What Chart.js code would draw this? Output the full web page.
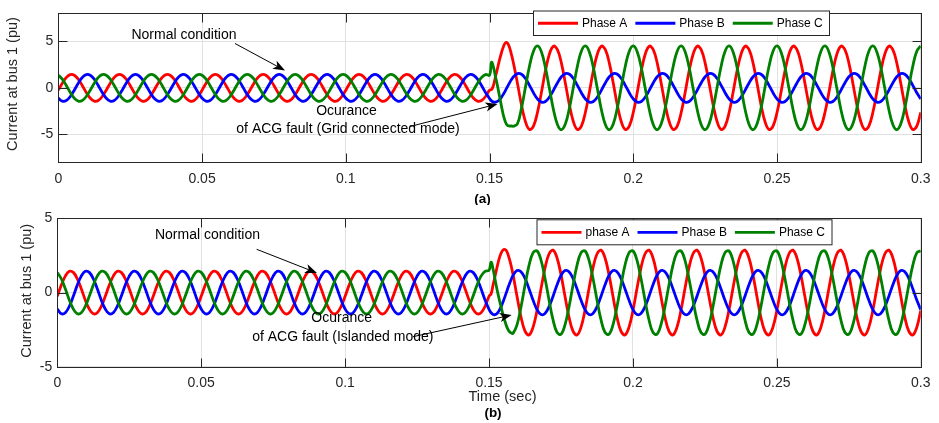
<!DOCTYPE html>
<html>
<head>
<meta charset="utf-8">
<script src="https://cdn.jsdelivr.net/npm/chart.js@4/dist/chart.umd.min.js"></script>
<style>
  html, body { margin: 0; padding: 0; background: #ffffff; }
  #fig { position: relative; width: 939px; height: 423px; overflow: hidden; }
  #fig canvas { position: absolute; left: 0; }
</style>
</head>
<body>
<div id="fig">
  <canvas id="gridChart" width="939" height="205" style="top:0px"></canvas>
  <canvas id="islandChart" width="939" height="218" style="top:205px"></canvas>
</div>
<script>
// ---- time base (s): 12 samples per 60 Hz cycle, denser just after the fault ----
const timePre = [
  0, 0.00139, 0.00278, 0.00417, 0.00556, 0.00694, 0.00833, 0.00972, 0.01111, 0.0125, 0.01389, 0.01528,
  0.01667, 0.01806, 0.01944, 0.02083, 0.02222, 0.02361, 0.025, 0.02639, 0.02778, 0.02917, 0.03056, 0.03194,
  0.03333, 0.03472, 0.03611, 0.0375, 0.03889, 0.04028, 0.04167, 0.04306, 0.04444, 0.04583, 0.04722, 0.04861,
  0.05, 0.05139, 0.05278, 0.05417, 0.05556, 0.05694, 0.05833, 0.05972, 0.06111, 0.0625, 0.06389, 0.06528,
  0.06667, 0.06806, 0.06944, 0.07083, 0.07222, 0.07361, 0.075, 0.07639, 0.07778, 0.07917, 0.08056, 0.08194,
  0.08333, 0.08472, 0.08611, 0.0875, 0.08889, 0.09028, 0.09167, 0.09306, 0.09444, 0.09583, 0.09722, 0.09861,
  0.1, 0.10139, 0.10278, 0.10417, 0.10556, 0.10694, 0.10833, 0.10972, 0.11111, 0.1125, 0.11389, 0.11528,
  0.11667, 0.11806, 0.11944, 0.12083, 0.12222, 0.12361, 0.125, 0.12639, 0.12778, 0.12917, 0.13056, 0.13194,
  0.13333, 0.13472, 0.13611, 0.1375, 0.13889, 0.14028, 0.14167, 0.14306, 0.14444, 0.14583, 0.14722, 0.14861
];
const timePost = [
  0.15, 0.15069, 0.15139, 0.15208, 0.15278, 0.15347, 0.15417, 0.15486, 0.15556, 0.15625, 0.15694, 0.15764, 0.15833, 0.15972, 0.16111, 0.1625, 0.16389, 0.16528,
  0.16667, 0.16806, 0.16944, 0.17083, 0.17222, 0.17361, 0.175, 0.17639, 0.17778, 0.17917, 0.18056, 0.18194,
  0.18333, 0.18472, 0.18611, 0.1875, 0.18889, 0.19028, 0.19167, 0.19306, 0.19444, 0.19583, 0.19722, 0.19861,
  0.2, 0.20139, 0.20278, 0.20417, 0.20556, 0.20694, 0.20833, 0.20972, 0.21111, 0.2125, 0.21389, 0.21528,
  0.21667, 0.21806, 0.21944, 0.22083, 0.22222, 0.22361, 0.225, 0.22639, 0.22778, 0.22917, 0.23056, 0.23194,
  0.23333, 0.23472, 0.23611, 0.2375, 0.23889, 0.24028, 0.24167, 0.24306, 0.24444, 0.24583, 0.24722, 0.24861,
  0.25, 0.25139, 0.25278, 0.25417, 0.25556, 0.25694, 0.25833, 0.25972, 0.26111, 0.2625, 0.26389, 0.26528,
  0.26667, 0.26806, 0.26944, 0.27083, 0.27222, 0.27361, 0.275, 0.27639, 0.27778, 0.27917, 0.28056, 0.28194,
  0.28333, 0.28472, 0.28611, 0.2875, 0.28889, 0.29028, 0.29167, 0.29306, 0.29444, 0.29583, 0.29722, 0.29861,
  0.3
];

// ---- normal condition, 0 to 0.15 s (pu), identical for both operating modes ----
const phaseAPre = [
  -0.25, 0.50, 1.11, 1.43, 1.36, 0.93, 0.25, -0.50, -1.11, -1.43, -1.36, -0.93,
  -0.25, 0.50, 1.11, 1.43, 1.36, 0.93, 0.25, -0.50, -1.11, -1.43, -1.36, -0.93,
  -0.25, 0.50, 1.11, 1.43, 1.36, 0.93, 0.25, -0.50, -1.11, -1.43, -1.36, -0.93,
  -0.25, 0.50, 1.11, 1.43, 1.36, 0.93, 0.25, -0.50, -1.11, -1.43, -1.36, -0.93,
  -0.25, 0.50, 1.11, 1.43, 1.36, 0.93, 0.25, -0.50, -1.11, -1.43, -1.36, -0.93,
  -0.25, 0.50, 1.11, 1.43, 1.36, 0.93, 0.25, -0.50, -1.11, -1.43, -1.36, -0.93,
  -0.25, 0.50, 1.11, 1.43, 1.36, 0.93, 0.25, -0.50, -1.11, -1.43, -1.36, -0.93,
  -0.25, 0.50, 1.11, 1.43, 1.36, 0.93, 0.25, -0.50, -1.11, -1.43, -1.36, -0.93,
  -0.25, 0.50, 1.11, 1.43, 1.36, 0.93, 0.25, -0.50, -1.11, -1.43, -1.36, -0.93
];
const phaseBPre = [
  -1.11, -1.43, -1.36, -0.93, -0.25, 0.50, 1.11, 1.43, 1.36, 0.93, 0.25, -0.50,
  -1.11, -1.43, -1.36, -0.93, -0.25, 0.50, 1.11, 1.43, 1.36, 0.93, 0.25, -0.50,
  -1.11, -1.43, -1.36, -0.93, -0.25, 0.50, 1.11, 1.43, 1.36, 0.93, 0.25, -0.50,
  -1.11, -1.43, -1.36, -0.93, -0.25, 0.50, 1.11, 1.43, 1.36, 0.93, 0.25, -0.50,
  -1.11, -1.43, -1.36, -0.93, -0.25, 0.50, 1.11, 1.43, 1.36, 0.93, 0.25, -0.50,
  -1.11, -1.43, -1.36, -0.93, -0.25, 0.50, 1.11, 1.43, 1.36, 0.93, 0.25, -0.50,
  -1.11, -1.43, -1.36, -0.93, -0.25, 0.50, 1.11, 1.43, 1.36, 0.93, 0.25, -0.50,
  -1.11, -1.43, -1.36, -0.93, -0.25, 0.50, 1.11, 1.43, 1.36, 0.93, 0.25, -0.50,
  -1.11, -1.43, -1.36, -0.93, -0.25, 0.50, 1.11, 1.43, 1.36, 0.93, 0.25, -0.50
];
const phaseCPre = [
  1.36, 0.93, 0.25, -0.50, -1.11, -1.43, -1.36, -0.93, -0.25, 0.50, 1.11, 1.43,
  1.36, 0.93, 0.25, -0.50, -1.11, -1.43, -1.36, -0.93, -0.25, 0.50, 1.11, 1.43,
  1.36, 0.93, 0.25, -0.50, -1.11, -1.43, -1.36, -0.93, -0.25, 0.50, 1.11, 1.43,
  1.36, 0.93, 0.25, -0.50, -1.11, -1.43, -1.36, -0.93, -0.25, 0.50, 1.11, 1.43,
  1.36, 0.93, 0.25, -0.50, -1.11, -1.43, -1.36, -0.93, -0.25, 0.50, 1.11, 1.43,
  1.36, 0.93, 0.25, -0.50, -1.11, -1.43, -1.36, -0.93, -0.25, 0.50, 1.11, 1.43,
  1.36, 0.93, 0.25, -0.50, -1.11, -1.43, -1.36, -0.93, -0.25, 0.50, 1.11, 1.43,
  1.36, 0.93, 0.25, -0.50, -1.11, -1.43, -1.36, -0.93, -0.25, 0.50, 1.11, 1.43,
  1.36, 0.93, 0.25, -0.50, -1.11, -1.43, -1.36, -0.93, -0.25, 0.50, 1.11, 1.43
];

// ---- ACG fault, grid connected mode, 0.15 to 0.3 s (pu) ----
const phaseAGrid = [
  -0.25, -0.2, 0.3, 1.2, 2.1, 3.0, 3.8, 4.45, 4.85, 4.8, 4.35, 3.55, 2.65, 0.47, -1.83, -3.64, -4.48, -4.11,
  -2.65, -0.47, 1.83, 3.64, 4.48, 4.11, 2.65, 0.47, -1.83, -3.64, -4.48, -4.11,
  -2.65, -0.47, 1.83, 3.64, 4.48, 4.11, 2.65, 0.47, -1.83, -3.64, -4.48, -4.11,
  -2.65, -0.47, 1.83, 3.64, 4.48, 4.11, 2.65, 0.47, -1.83, -3.64, -4.48, -4.11,
  -2.65, -0.47, 1.83, 3.64, 4.48, 4.11, 2.65, 0.47, -1.83, -3.64, -4.48, -4.11,
  -2.65, -0.47, 1.83, 3.64, 4.48, 4.11, 2.65, 0.47, -1.83, -3.64, -4.48, -4.11,
  -2.65, -0.47, 1.83, 3.64, 4.48, 4.11, 2.65, 0.47, -1.83, -3.64, -4.48, -4.11,
  -2.65, -0.47, 1.83, 3.64, 4.48, 4.11, 2.65, 0.47, -1.83, -3.64, -4.48, -4.11,
  -2.65, -0.47, 1.83, 3.64, 4.48, 4.11, 2.65, 0.47, -1.83, -3.64, -4.48, -4.11,
  -2.65
];
const phaseBGrid = [
  -1.15, -1.40, -1.53, -1.54, -1.46, -1.27, -1.00, -0.66, -0.27, 0.14, 0.53, 0.89, 1.19, 1.53, 1.46, 1.00, 0.27, -0.53,
  -1.19, -1.53, -1.46, -1.00, -0.27, 0.53, 1.19, 1.53, 1.46, 1.00, 0.27, -0.53,
  -1.19, -1.53, -1.46, -1.00, -0.27, 0.53, 1.19, 1.53, 1.46, 1.00, 0.27, -0.53,
  -1.19, -1.53, -1.46, -1.00, -0.27, 0.53, 1.19, 1.53, 1.46, 1.00, 0.27, -0.53,
  -1.19, -1.53, -1.46, -1.00, -0.27, 0.53, 1.19, 1.53, 1.46, 1.00, 0.27, -0.53,
  -1.19, -1.53, -1.46, -1.00, -0.27, 0.53, 1.19, 1.53, 1.46, 1.00, 0.27, -0.53,
  -1.19, -1.53, -1.46, -1.00, -0.27, 0.53, 1.19, 1.53, 1.46, 1.00, 0.27, -0.53,
  -1.19, -1.53, -1.46, -1.00, -0.27, 0.53, 1.19, 1.53, 1.46, 1.00, 0.27, -0.53,
  -1.19, -1.53, -1.46, -1.00, -0.27, 0.53, 1.19, 1.53, 1.46, 1.00, 0.27, -0.53,
  -1.19
];
const phaseCGrid = [
  1.36, 2.75, 2.2, 1.2, 0.2, -0.9, -2.0, -3.0, -3.7, -4.05, -4.1, -4.1, -4.12, -3.86, -2.18, 0.08, 2.32, 3.94,
  4.50, 3.86, 2.18, -0.08, -2.32, -3.94, -4.50, -3.86, -2.18, 0.08, 2.32, 3.94,
  4.50, 3.86, 2.18, -0.08, -2.32, -3.94, -4.50, -3.86, -2.18, 0.08, 2.32, 3.94,
  4.50, 3.86, 2.18, -0.08, -2.32, -3.94, -4.50, -3.86, -2.18, 0.08, 2.32, 3.94,
  4.50, 3.86, 2.18, -0.08, -2.32, -3.94, -4.50, -3.86, -2.18, 0.08, 2.32, 3.94,
  4.50, 3.86, 2.18, -0.08, -2.32, -3.94, -4.50, -3.86, -2.18, 0.08, 2.32, 3.94,
  4.50, 3.86, 2.18, -0.08, -2.32, -3.94, -4.50, -3.86, -2.18, 0.08, 2.32, 3.94,
  4.50, 3.86, 2.18, -0.08, -2.32, -3.94, -4.50, -3.86, -2.18, 0.08, 2.32, 3.94,
  4.50, 3.86, 2.18, -0.08, -2.32, -3.94, -4.50, -3.86, -2.18, 0.08, 2.32, 3.94,
  4.50
];

// ---- ACG fault, islanded mode, 0.15 to 0.3 s (pu) ----
const phaseAIsland = [
  -0.25, -0.1, 0.5, 1.1, 1.7, 2.25, 2.65, 2.87, 2.9, 2.75, 2.35, 1.84, 1.21, -0.25, -1.65, -2.60, -2.86, -2.35,
  -1.21, 0.25, 1.65, 2.60, 2.86, 2.35, 1.21, -0.25, -1.65, -2.60, -2.86, -2.35,
  -1.21, 0.25, 1.65, 2.60, 2.86, 2.35, 1.21, -0.25, -1.65, -2.60, -2.86, -2.35,
  -1.21, 0.25, 1.65, 2.60, 2.86, 2.35, 1.21, -0.25, -1.65, -2.60, -2.86, -2.35,
  -1.21, 0.25, 1.65, 2.60, 2.86, 2.35, 1.21, -0.25, -1.65, -2.60, -2.86, -2.35,
  -1.21, 0.25, 1.65, 2.60, 2.86, 2.35, 1.21, -0.25, -1.65, -2.60, -2.86, -2.35,
  -1.21, 0.25, 1.65, 2.60, 2.86, 2.35, 1.21, -0.25, -1.65, -2.60, -2.86, -2.35,
  -1.21, 0.25, 1.65, 2.60, 2.86, 2.35, 1.21, -0.25, -1.65, -2.60, -2.86, -2.35,
  -1.21, 0.25, 1.65, 2.60, 2.86, 2.35, 1.21, -0.25, -1.65, -2.60, -2.86, -2.35,
  -1.21
];
const phaseBIsland = [
  -1.13, -1.36, -1.48, -1.49, -1.41, -1.23, -0.96, -0.63, -0.26, 0.13, 0.51, 0.86, 1.15, 1.48, 1.41, 0.96, 0.26, -0.51,
  -1.15, -1.48, -1.41, -0.96, -0.26, 0.51, 1.15, 1.48, 1.41, 0.96, 0.26, -0.51,
  -1.15, -1.48, -1.41, -0.96, -0.26, 0.51, 1.15, 1.48, 1.41, 0.96, 0.26, -0.51,
  -1.15, -1.48, -1.41, -0.96, -0.26, 0.51, 1.15, 1.48, 1.41, 0.96, 0.26, -0.51,
  -1.15, -1.48, -1.41, -0.96, -0.26, 0.51, 1.15, 1.48, 1.41, 0.96, 0.26, -0.51,
  -1.15, -1.48, -1.41, -0.96, -0.26, 0.51, 1.15, 1.48, 1.41, 0.96, 0.26, -0.51,
  -1.15, -1.48, -1.41, -0.96, -0.26, 0.51, 1.15, 1.48, 1.41, 0.96, 0.26, -0.51,
  -1.15, -1.48, -1.41, -0.96, -0.26, 0.51, 1.15, 1.48, 1.41, 0.96, 0.26, -0.51,
  -1.15, -1.48, -1.41, -0.96, -0.26, 0.51, 1.15, 1.48, 1.41, 0.96, 0.26, -0.51,
  -1.15
];
const phaseCIsland = [
  1.5, 2.05, 1.6, 0.9, 0.2, -0.4, -0.95, -1.5, -1.95, -2.35, -2.6, -2.72, -2.75, -2.18, -0.97, 0.49, 1.83, 2.68,
  2.81, 2.18, 0.97, -0.49, -1.83, -2.68, -2.81, -2.18, -0.97, 0.49, 1.83, 2.68,
  2.81, 2.18, 0.97, -0.49, -1.83, -2.68, -2.81, -2.18, -0.97, 0.49, 1.83, 2.68,
  2.81, 2.18, 0.97, -0.49, -1.83, -2.68, -2.81, -2.18, -0.97, 0.49, 1.83, 2.68,
  2.81, 2.18, 0.97, -0.49, -1.83, -2.68, -2.81, -2.18, -0.97, 0.49, 1.83, 2.68,
  2.81, 2.18, 0.97, -0.49, -1.83, -2.68, -2.81, -2.18, -0.97, 0.49, 1.83, 2.68,
  2.81, 2.18, 0.97, -0.49, -1.83, -2.68, -2.81, -2.18, -0.97, 0.49, 1.83, 2.68,
  2.81, 2.18, 0.97, -0.49, -1.83, -2.68, -2.81, -2.18, -0.97, 0.49, 1.83, 2.68,
  2.81, 2.18, 0.97, -0.49, -1.83, -2.68, -2.81, -2.18, -0.97, 0.49, 1.83, 2.68,
  2.81
];

// ---- axis ticks and labels ----
const xTicks = [0, 0.05, 0.1, 0.15, 0.2, 0.25, 0.3];
const xTickLabels = ['0', '0.05', '0.1', '0.15', '0.2', '0.25', '0.3'];
const yTicks = [-5, 0, 5];
const yTickLabels = ['-5', '0', '5'];
const namesGrid = ['Phase A', 'Phase B', 'Phase C'];
const namesIsland = ['phase A', 'Phase B', 'Phase C'];

// ---- styling ----
const FONT = '"Liberation Sans", Arial, Helvetica, sans-serif';
const AXIS_COLOR = '#262626';
const GRID_COLOR = '#e1e1e1';
const PHASE_COLORS = ['#ff0000', '#0000ff', '#008000'];
Chart.defaults.font.family = FONT;

function toPoints(times, values) {
  return times.map((t, i) => ({ x: t, y: values[i] }));
}
const allTimes = timePre.concat(timePost);

function makeDatasets(names, a, b, c) {
  const series = [phaseAPre.concat(a), phaseBPre.concat(b), phaseCPre.concat(c)];
  return series.map((vals, k) => ({
    label: names[k],
    data: toPoints(allTimes, vals),
    borderColor: PHASE_COLORS[k],
    backgroundColor: PHASE_COLORS[k],
    borderWidth: 2.8,
    pointRadius: 0,
    tension: 0.4,
    fill: false,
    order: 3 - k   // phase C drawn on top
  }));
}

function drawArrow(ctx, x1, y1, x2, y2) {
  const ang = Math.atan2(y2 - y1, x2 - x1);
  const L = 12, W = 4.6, N = 3.2;
  const cx = Math.cos(ang), sy = Math.sin(ang);
  ctx.beginPath();
  ctx.moveTo(x1, y1);
  ctx.lineTo(x2 - cx * (L - N), y2 - sy * (L - N));
  ctx.stroke();
  const bx = x2 - cx * L, by = y2 - sy * L;
  const nx = -sy, ny = cx;
  ctx.beginPath();
  ctx.moveTo(x2, y2);
  ctx.lineTo(bx + nx * W, by + ny * W);
  ctx.lineTo(x2 - cx * (L - N), y2 - sy * (L - N));
  ctx.lineTo(bx - nx * W, by - ny * W);
  ctx.closePath();
  ctx.fill();
}

// box, inward ticks, legend, annotations and captions
const decorPlugin = {
  id: 'decor',
  afterDatasetsDraw(chart, args, opts) {
    const ctx = chart.ctx, a = chart.chartArea;
    const xs = chart.scales.x, ys = chart.scales.y;
    ctx.save();
    ctx.strokeStyle = AXIS_COLOR;
    ctx.lineWidth = 1;
    const L = Math.round(a.left) + 0.5, R = Math.round(a.right) + 0.5;
    const T = Math.round(a.top) + 0.5, B = Math.round(a.bottom) + 0.5;
    ctx.strokeRect(L, T, R - L, B - T);
    const tl = 9;
    ctx.beginPath();
    xTicks.forEach(v => {
      const px = Math.round(xs.getPixelForValue(v)) + 0.5;
      ctx.moveTo(px, B); ctx.lineTo(px, B - tl);
      ctx.moveTo(px, T); ctx.lineTo(px, T + tl);
    });
    yTicks.forEach(v => {
      const py = Math.round(ys.getPixelForValue(v)) + 0.5;
      ctx.moveTo(L, py); ctx.lineTo(L + tl, py);
      ctx.moveTo(R, py); ctx.lineTo(R - tl, py);
    });
    ctx.stroke();

    // legend
    const lg = opts.legend;
    ctx.fillStyle = '#ffffff';
    ctx.fillRect(lg.left + 0.5, lg.top + 0.5, lg.width, lg.height);
    ctx.strokeStyle = AXIS_COLOR;
    ctx.strokeRect(lg.left + 0.5, lg.top + 0.5, lg.width, lg.height);
    ctx.font = '12px ' + FONT;
    ctx.textBaseline = 'middle';
    ctx.textAlign = 'left';
    const cy = lg.top + lg.height / 2 + 0.5;
    let x = lg.left + 5;
    chart.data.datasets.forEach(ds => {
      ctx.strokeStyle = ds.borderColor;
      ctx.lineWidth = 2.8;
      ctx.beginPath();
      ctx.moveTo(x, cy); ctx.lineTo(x + 40, cy);
      ctx.stroke();
      ctx.fillStyle = '#000000';
      ctx.fillText(ds.label, x + 44, cy + 0.5);
      x += 44 + ctx.measureText(ds.label).width + 8;
    });

    // annotation texts and arrows
    ctx.fillStyle = '#000000';
    ctx.strokeStyle = '#000000';
    ctx.lineWidth = 1;
    (opts.texts || []).forEach(tx => {
      ctx.font = (tx.bold ? 'bold ' : '') + (tx.size || 14) + 'px ' + FONT;
      ctx.fillStyle = tx.color || '#000000';
      ctx.textAlign = 'center';
      ctx.textBaseline = 'middle';
      ctx.save();
      ctx.translate(tx.x, tx.y);
      if (tx.rotate) ctx.rotate(tx.rotate);
      ctx.fillText(tx.text, 0, 0);
      ctx.restore();
    });
    ctx.fillStyle = '#000000';
    (opts.arrows || []).forEach(ar => drawArrow(ctx, ar[0], ar[1], ar[2], ar[3]));
    ctx.restore();
  }
};

function makeOptions(cfg) {
  return {
    responsive: false,
    animation: false,
    events: [],
    layout: { padding: cfg.padding },
    plugins: {
      legend: { display: false },
      tooltip: { enabled: false },
      decor: cfg.decor
    },
    scales: {
      x: {
        type: 'linear',
        min: 0, max: 0.3,
        afterBuildTicks: s => { s.ticks = xTicks.map(v => ({ value: v })); },
        afterFit: s => { s.height = cfg.xHeight; },
        ticks: {
          autoSkip: false, maxRotation: 0,
          padding: 8.5,
          color: AXIS_COLOR,
          font: { size: 14 },
          callback: v => xTickLabels[xTicks.indexOf(v)]
        },
        grid: { color: GRID_COLOR, drawTicks: false, lineWidth: 1 },
        border: { display: false }
      },
      y: {
        type: 'linear',
        min: cfg.yMin, max: cfg.yMax,
        afterBuildTicks: s => { s.ticks = yTicks.map(v => ({ value: v })); },
        afterFit: s => { s.width = cfg.yWidth; },
        ticks: {
          padding: 5,
          color: AXIS_COLOR,
          font: { size: 14 },
          callback: v => yTickLabels[yTicks.indexOf(v)]
        },
        grid: { color: GRID_COLOR, drawTicks: false, lineWidth: 1 },
        border: { display: false }
      }
    }
  };
}

// (a) grid connected mode
new Chart(document.getElementById('gridChart'), {
  type: 'line',
  data: { datasets: makeDatasets(namesGrid, phaseAGrid, phaseBGrid, phaseCGrid) },
  options: makeOptions({
    padding: { top: 6, right: 13.7, left: 0, bottom: 0 },
    xHeight: 42.7, yWidth: 58.3, yMin: -8, yMax: 8,
    decor: {
      legend: { left: 533, top: 10.5, width: 296, height: 24.5 },
      texts: [
        { text: 'Current at bus 1 (pu)', x: 12.5, y: 84, rotate: -Math.PI / 2, size: 14.5, color: AXIS_COLOR },
        { text: 'Normal condition', x: 184, y: 35 },
        { text: 'Ocurance', x: 346.5, y: 111 },
        { text: 'of ACG fault (Grid connected mode)', x: 348, y: 128.7 },
        { text: '(a)', x: 482.5, y: 199, bold: true, size: 13.5 }
      ],
      arrows: [[235, 43.5, 285, 70.5], [410, 126.5, 497.5, 104]]
    }
  }),
  plugins: [decorPlugin]
});

// (b) islanded mode
new Chart(document.getElementById('islandChart'), {
  type: 'line',
  data: { datasets: makeDatasets(namesIsland, phaseAIsland, phaseBIsland, phaseCIsland) },
  options: makeOptions({
    padding: { top: 9.3, right: 16.3, left: 0, bottom: 0 },
    xHeight: 56.3, yWidth: 57.3, yMin: -5, yMax: 5,
    decor: {
      legend: { left: 536.5, top: 14.3, width: 295, height: 25 },
      texts: [
        { text: 'Current at bus 1 (pu)', x: 27, y: 85.8, rotate: -Math.PI / 2, size: 14.5, color: AXIS_COLOR },
        { text: 'Normal condition', x: 207.5, y: 30 },
        { text: 'Ocurance', x: 341.7, y: 113.3 },
        { text: 'of ACG fault (Islanded mode)', x: 342.8, y: 131.7 },
        { text: 'Time (sec)', x: 502.5, y: 191.7, size: 14.5, color: AXIS_COLOR },
        { text: '(b)', x: 493, y: 208.3, bold: true, size: 13.5 }
      ],
      arrows: [[256.7, 44.3, 317, 68], [413, 131.7, 511.7, 110]]
    }
  }),
  plugins: [decorPlugin]
});
</script>
</body>
</html>
